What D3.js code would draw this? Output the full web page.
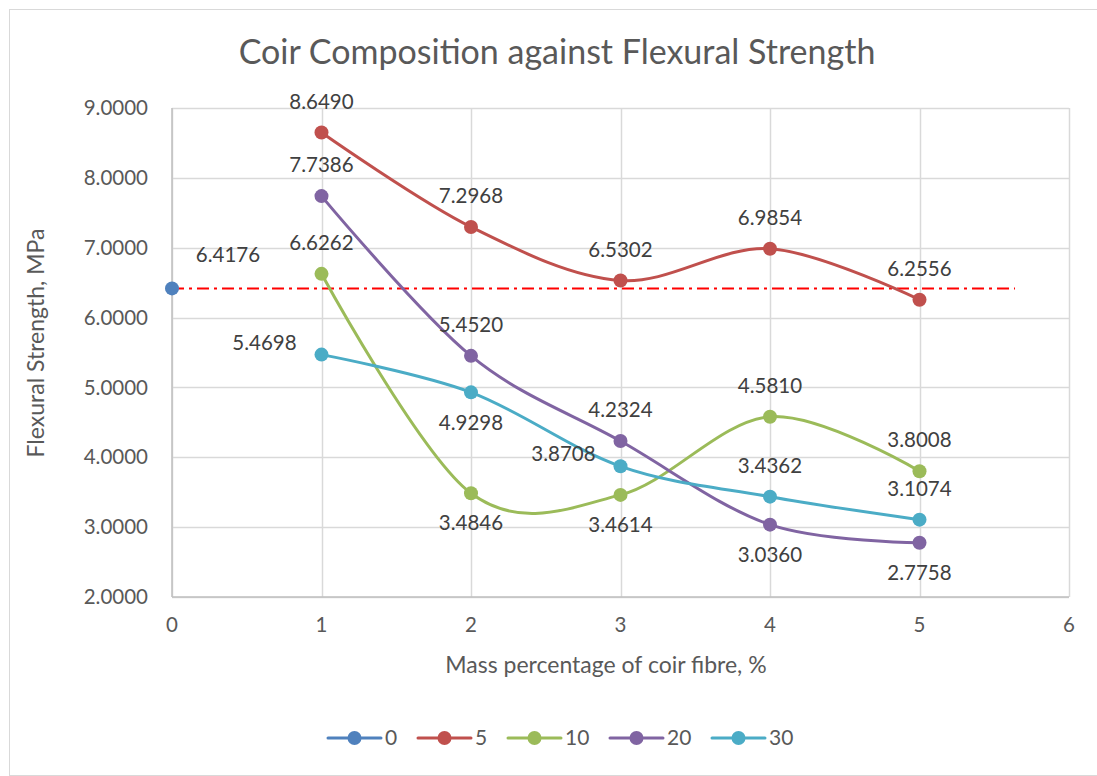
<!DOCTYPE html>
<html>
<head>
<meta charset="utf-8">
<script src="https://cdn.jsdelivr.net/npm/d3@7"></script>
<style>
  body { margin: 0; background: #fff; }
  text { font-family: Lato, "Open Sans", sans-serif; fill: #595959; }
</style>
</head>
<body>
<div id="chart"></div>
<script>
// ---- data ----
var xValues = [0, 1, 2, 3, 4, 5];
var seriesNames = ["0", "5", "10", "20", "30"];
var s0 = [6.4176];
var s5 = [8.6490, 7.2968, 6.5302, 6.9854, 6.2556];
var s10 = [6.6262, 3.4846, 3.4614, 4.5810, 3.8008];
var s20 = [7.7386, 5.4520, 4.2324, 3.0360, 2.7758];
var s30 = [5.4698, 4.9298, 3.8708, 3.4362, 3.1074];
var refValue = 6.4176;
var xTicks = [0, 1, 2, 3, 4, 5, 6];
var yTicks = [2, 3, 4, 5, 6, 7, 8, 9];
// where each data label sits relative to its point
var lab0 = ["tr"];
var lab5 = ["t", "t", "t", "t", "t"];
var lab10 = ["t", "b", "b", "t", "t"];
var lab20 = ["t", "t", "t", "b", "b"];
var lab30 = ["l", "b", "l", "t", "t"];

var colors = ["#4F81BD", "#C0504D", "#9BBB59", "#8064A2", "#4BACC6"];

var width = 1097, height = 776;
var margin = {top: 108, right: 28, bottom: 179, left: 172};

var svg = d3.select("#chart").append("svg")
    .attr("width", width).attr("height", height);

// chart border
svg.append("rect")
    .attr("x", 9.5).attr("y", 9.5)
    .attr("width", width + 10).attr("height", 766)
    .attr("fill", "#fff").attr("stroke", "#d9d9d9").attr("stroke-width", 1);

var x = d3.scaleLinear().domain([0, 6]).range([margin.left, width - margin.right]);
var y = d3.scaleLinear().domain([2, 9]).range([height - margin.bottom, margin.top]);

// gridlines
svg.append("g").selectAll("line").data(yTicks).join("line")
    .attr("x1", x(0)).attr("x2", x(6))
    .attr("y1", function(d) { return Math.round(y(d)) + 0.5; })
    .attr("y2", function(d) { return Math.round(y(d)) + 0.5; })
    .attr("stroke", "#d9d9d9").attr("stroke-width", 1.5);
svg.append("g").selectAll("line").data(xTicks).join("line")
    .attr("x1", function(d) { return Math.round(x(d)) + 0.5; })
    .attr("x2", function(d) { return Math.round(x(d)) + 0.5; })
    .attr("y1", y(9)).attr("y2", y(2))
    .attr("stroke", "#d9d9d9").attr("stroke-width", 1.5);

// axis lines
svg.append("line").attr("x1", x(0)).attr("x2", x(6)).attr("y1", y(2)).attr("y2", y(2))
    .attr("stroke", "#bfbfbf").attr("stroke-width", 1.5);
svg.append("line").attr("x1", x(0)).attr("x2", x(0)).attr("y1", y(9)).attr("y2", y(2))
    .attr("stroke", "#bfbfbf").attr("stroke-width", 1.5);

// tick labels
svg.append("g").selectAll("text").data(yTicks).join("text")
    .attr("x", 148).attr("y", function(d) { return y(d); })
    .attr("dy", "0.35em").attr("text-anchor", "end")
    .style("font-size", "20.5px")
    .text(function(d) { return d.toFixed(4); });
svg.append("g").selectAll("text").data(xTicks).join("text")
    .attr("x", function(d) { return x(d); }).attr("y", y(2) + 35)
    .attr("text-anchor", "middle")
    .style("font-size", "20.5px")
    .text(function(d) { return d; });

// titles
svg.append("text").attr("x", 557).attr("y", 64).attr("text-anchor", "middle")
    .style("font-size", "34px")
    .text("Coir Composition against Flexural Strength");
svg.append("text").attr("x", 606).attr("y", 673).attr("text-anchor", "middle")
    .style("font-size", "23px")
    .text("Mass percentage of coir fibre, %");
svg.append("text").attr("transform", "translate(44,343) rotate(-90)")
    .attr("text-anchor", "middle")
    .style("font-size", "23px")
    .text("Flexural Strength, MPa");

// reference line
svg.append("line")
    .attr("x1", x(0)).attr("x2", 1015)
    .attr("y1", y(refValue)).attr("y2", y(refValue))
    .attr("stroke", "#ff0000").attr("stroke-width", 2)
    .attr("stroke-dasharray", "12,5,3,5");

// series
var allSeries = [
  {name: seriesNames[0], xs: [0], ys: s0, labs: lab0},
  {name: seriesNames[1], xs: xValues.slice(1), ys: s5, labs: lab5},
  {name: seriesNames[2], xs: xValues.slice(1), ys: s10, labs: lab10},
  {name: seriesNames[3], xs: xValues.slice(1), ys: s20, labs: lab20},
  {name: seriesNames[4], xs: xValues.slice(1), ys: s30, labs: lab30}
];

var line = d3.line()
    .x(function(d) { return x(d[0]); })
    .y(function(d) { return y(d[1]); })
    .curve(d3.curveCardinal.tension(0));

var labelOffset = {
  t:  {dx: 0,   dy: -31, anchor: "middle"},
  b:  {dx: 0,   dy: 30,  anchor: "middle"},
  l:  {dx: -57, dy: -12, anchor: "middle"},
  tr: {dx: 56,  dy: -34, anchor: "middle"}
};

allSeries.forEach(function(s, si) {
  var pts = s.ys.map(function(v, i) { return [s.xs[i], v, s.labs[i]]; });
  var g = svg.append("g");
  if (pts.length > 1) {
    g.append("path").datum(pts)
      .attr("d", line).attr("fill", "none")
      .attr("stroke", colors[si]).attr("stroke-width", 3)
      .attr("stroke-linecap", "round");
  }
  g.selectAll("circle").data(pts).join("circle")
    .attr("cx", function(d) { return x(d[0]); })
    .attr("cy", function(d) { return y(d[1]); })
    .attr("r", 7).attr("fill", colors[si]);
});

// data labels on top
allSeries.forEach(function(s) {
  var pts = s.ys.map(function(v, i) { return [s.xs[i], v, s.labs[i]]; });
  svg.append("g").selectAll("text").data(pts).join("text")
    .attr("x", function(d) { return x(d[0]) + labelOffset[d[2]].dx; })
    .attr("y", function(d) { return y(d[1]) + labelOffset[d[2]].dy; })
    .attr("dy", "0.35em")
    .attr("text-anchor", function(d) { return labelOffset[d[2]].anchor; })
    .style("font-size", "20.5px").style("fill", "#404040")
    .text(function(d) { return d[1].toFixed(4); });
});

// legend
var legendX = [328, 418, 508, 610, 712];
var lg = svg.append("g").selectAll("g").data(seriesNames).join("g")
    .attr("transform", function(d, i) { return "translate(" + legendX[i] + ",738)"; });
lg.append("line").attr("x1", 0).attr("x2", 53)
    .attr("stroke", function(d, i) { return colors[i]; })
    .attr("stroke-width", 3).attr("stroke-linecap", "round");
lg.append("circle").attr("cx", 26.5).attr("r", 7)
    .attr("fill", function(d, i) { return colors[i]; });
lg.append("text").attr("x", 57).attr("dy", "0.35em")
    .style("font-size", "21px")
    .text(function(d) { return d; });
</script>
</body>
</html>
